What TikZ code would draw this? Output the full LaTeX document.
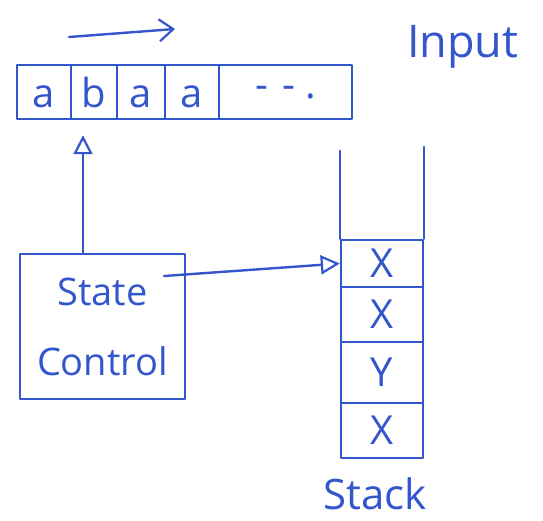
\documentclass[tikz,border=0pt]{standalone}
\usepackage{fontspec}
\setmainfont{Open Sans}
\usetikzlibrary{arrows.meta}
\definecolor{ink}{RGB}{52,86,204}
\begin{document}
\begin{tikzpicture}[x=1pt,y=-1pt,
  inkline/.style={draw=ink, line width=2.4pt, line join=round, line cap=round},
  tapecell/.style={inkline, minimum height=54pt, inner sep=0pt,
    text height=30pt, text depth=0pt, text=ink, font=\fontsize{40}{40}\selectfont},
  stackcell/.style={inkline, minimum width=82pt, inner sep=0pt,
    text=ink, font=\fontsize{40}{40}\selectfont},
  tag/.style={text=ink, anchor=base west, inner sep=0pt},
  arr/.style={inkline, -{Triangle[open, length=19pt, width=19pt, line width=2.2pt]}}]
\useasboundingbox (0,0) rectangle (543,520);

% input tape
\node[tapecell, minimum width=54pt]  (c1) at (44,92)    {a};
\node[tapecell, minimum width=46pt]  (c2) at (94,92)    {b};
\node[tapecell, minimum width=48pt]  (c3) at (141,92)   {a};
\node[tapecell, minimum width=54pt]  (c4) at (192,92)   {a};
\node[tapecell, minimum width=133pt] (c5) at (285.5,92) {\raisebox{9pt}{-\hspace{14pt}-\hspace{10pt}.}};

% reading direction
\coordinate (mvA) at (69,37);
\coordinate (mvB) at (175,29);
\draw[inkline, -{Straight Barb[length=14pt, width=22pt, line width=2.2pt]}] (mvA) -- (mvB);

\node[tag, font=\fontsize{45}{45}\selectfont] (inp) at (407,57) {Input};

% finite control
\node[inkline, minimum width=165pt, minimum height=145pt, inner sep=0pt,
      align=center, text=ink, font=\fontsize{38}{70}\selectfont]
      (ctrl) at (102.5,326.5) {State\\Control};

% stack
\node[stackcell, minimum height=47pt] (s1) at (382,263.5) {X};
\node[stackcell, minimum height=55pt] (s2) at (382,314.5) {X};
\node[stackcell, minimum height=61pt] (s3) at (382,372.5) {Y};
\node[stackcell, minimum height=55pt] (s4) at (382,430.5) {X};
\draw[inkline] (s1.north west) -- ++(0,-88);
\draw[inkline] (s1.north east) -- ++(0,-92);

\node[tag, font=\fontsize{42}{42}\selectfont] (stk) at (323,509) {Stack};

% head and stack connections
\coordinate (upx) at (83,0);
\draw[arr] (ctrl.north -| upx) -- ([yshift=-15pt]c2.south -| upx);
\coordinate (cout) at (164,276);
\draw[arr] (cout) -- (s1.west);
\end{tikzpicture}
\end{document}
